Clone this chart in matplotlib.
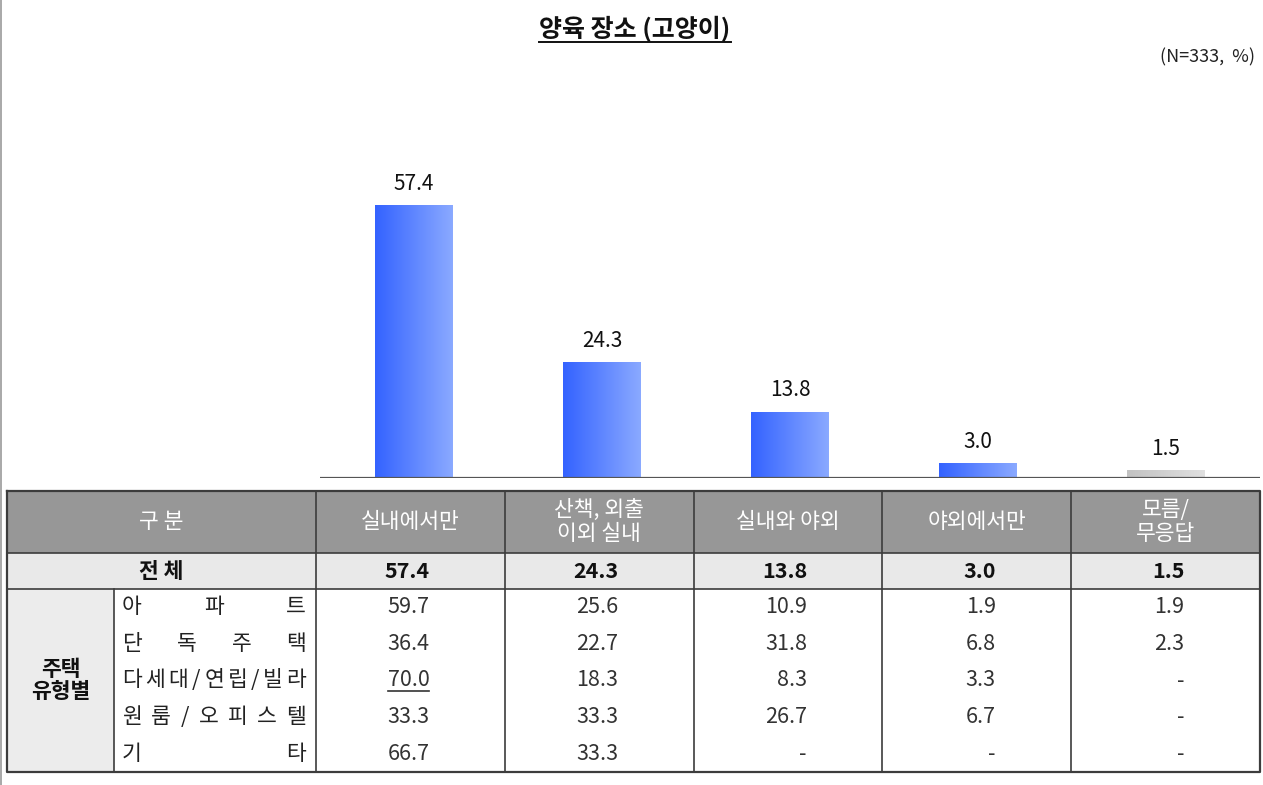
import matplotlib
matplotlib.use("Agg")
import numpy as np
import matplotlib.pyplot as plt
from matplotlib.colors import LinearSegmentedColormap
from matplotlib.patches import Rectangle

plt.rcParams["font.family"] = ["Noto Sans CJK KR", "DejaVu Sans"]

# ─── Datos ────────────────────────────────────────────────────────────────────
TITLE = "양육 장소 (고양이)"
NOTE = "(N=333,  %)"
categories = ["실내에서만", "산책, 외출\n이외 실내", "실내와 야외", "야외에서만", "모름/\n무응답"]
total = [57.4, 24.3, 13.8, 3.0, 1.5]
group_label = "주택\n유형별"
row_labels = ["아파트", "단독주택", "다세대/연립/빌라", "원룸/오피스텔", "기타"]
row_values = [
    ["59.7", "25.6", "10.9", "1.9", "1.9"],
    ["36.4", "22.7", "31.8", "6.8", "2.3"],
    ["70.0", "18.3", "8.3", "3.3", "-"],
    ["33.3", "33.3", "26.7", "6.7", "-"],
    ["66.7", "33.3", "-", "-", "-"],
]
highlight = [(2, 0)]  # celda subrayada

W, H = 1263, 785
fig = plt.figure(figsize=(W / 100, H / 100), dpi=100)
renderer = fig.canvas.get_renderer()


def _width_px(txt):
    bb = txt.get_window_extent(renderer=renderer)
    return bb.x0, bb.x1


# ─── Capa de píxeles para título y tabla ─────────────────────────────────────
bg = fig.add_axes([0, 0, 1, 1])
bg.set_xlim(0, W)
bg.set_ylim(H, 0)
bg.axis("off")

bg.plot([1, 1], [0, H], color="#9a9a9a", lw=1.2)

t = bg.text(635, 29, TITLE, ha="center", va="center", fontsize=18,
            fontweight="bold", color="#111111")
x0, x1 = _width_px(t)
bg.plot([x0, x1], [42, 42], color="#111111", lw=1.4)
bg.text(1255, 57, NOTE, ha="right", va="center", fontsize=13, color="#222222")

# ─── Gráfico de barras ────────────────────────────────────────────────────────
ax = fig.add_axes([320 / W, 1 - 478 / H, 940 / W, 318 / H])
ax.set_xlim(-0.5, 4.5)
ax.set_ylim(0, 318 / 4.74)
ax.axis("off")

blue = LinearSegmentedColormap.from_list("blue", ["#3463ff", "#8aa9ff"])
grey = LinearSegmentedColormap.from_list("grey", ["#c2c2c2", "#e0e0e0"])
grad = np.linspace(0, 1, 64).reshape(1, -1)
bw = 0.41
for i, v in enumerate(total):
    cmap = grey if i == len(total) - 1 else blue
    ax.imshow(grad, cmap=cmap, extent=(i - bw / 2, i + bw / 2, 0, v),
              aspect="auto", zorder=2)
    ax.annotate(f"{v:.1f}", (i, v), xytext=(0, 8), textcoords="offset points",
                ha="center", va="bottom", fontsize=15, color="#111111")
ax.axhline(0, color="#555555", lw=1.6, zorder=3)

# ─── Tabla ────────────────────────────────────────────────────────────────────
x_left, x_grp, x_lab = 7, 114, 316
col_w = (1260 - x_lab) / len(categories)
col_x = [x_lab + col_w * i for i in range(len(categories) + 1)]
y_top, y_head, y_tot, y_bot = 491, 553, 589, 772
row_h = (y_bot - y_tot) / len(row_labels)

bg.add_patch(Rectangle((x_left, y_top), 1260 - x_left, y_head - y_top,
                       facecolor="#979797", edgecolor="none"))
bg.add_patch(Rectangle((x_left, y_head), 1260 - x_left, y_tot - y_head,
                       facecolor="#e9e9e9", edgecolor="none"))
bg.add_patch(Rectangle((x_left, y_tot), x_grp - x_left, y_bot - y_tot,
                       facecolor="#ececec", edgecolor="none"))

line_c = "#3c3c3c"
for y in (y_head, y_tot):
    bg.plot([x_left, 1260], [y, y], color=line_c, lw=1.2)
bg.plot([x_left, 1260, 1260, x_left, x_left], [y_top, y_top, y_bot, y_bot, y_top],
        color=line_c, lw=1.6)
for x in col_x[:-1]:
    bg.plot([x, x], [y_top, y_bot], color=line_c, lw=1.2)
bg.plot([x_grp, x_grp], [y_tot, y_bot], color=line_c, lw=1.2)

fs = 15.5
head_y = (y_top + y_head) / 2
bg.text((x_left + x_lab) / 2, head_y, "구 분", ha="center", va="center",
        fontsize=fs, color="white")
for j, c in enumerate(categories):
    bg.text(col_x[j] + col_w / 2, head_y, c, ha="center", va="center",
            fontsize=fs, color="white", linespacing=1.12)

tot_y = (y_head + y_tot) / 2
bg.text((x_left + x_lab) / 2, tot_y, "전 체", ha="center", va="center",
        fontsize=fs, fontweight="bold", color="#111111")
num_off = 19
for j, v in enumerate(total):
    bg.text(col_x[j] + col_w / 2 + num_off, tot_y, f"{v:.1f}", ha="right",
            va="center", fontsize=fs, fontweight="bold", color="#111111")

bg.text((x_left + x_grp) / 2, (y_tot + y_bot) / 2, group_label, ha="center",
        va="center", fontsize=fs, fontweight="bold", color="#111111",
        linespacing=1.1)

# etiquetas justificadas: espacio repartido entre caracteres
lab_l, lab_r = 122, 306
for i, lab in enumerate(row_labels):
    yc = y_tot + row_h * (i + 0.5)
    objs = [bg.text(0, yc, ch, ha="left", va="center", fontsize=fs,
                    color="#222222") for ch in lab]
    widths = [np.diff(_width_px(o))[0] for o in objs]
    gap = (lab_r - lab_l - sum(widths)) / max(len(objs) - 1, 1)
    xc = lab_l
    for o, w in zip(objs, widths):
        o.set_x(xc)
        xc += w + gap
    for j, v in enumerate(row_values[i]):
        tx = bg.text(col_x[j] + col_w / 2 + num_off, yc, v, ha="right",
                     va="center", fontsize=fs, color="#333333")
        if (i, j) in highlight:
            a, b = _width_px(tx)
            bg.plot([a, b], [yc + 10, yc + 10], color="#333333", lw=1.2)

fig.savefig("out.png", dpi=100, facecolor="white")
